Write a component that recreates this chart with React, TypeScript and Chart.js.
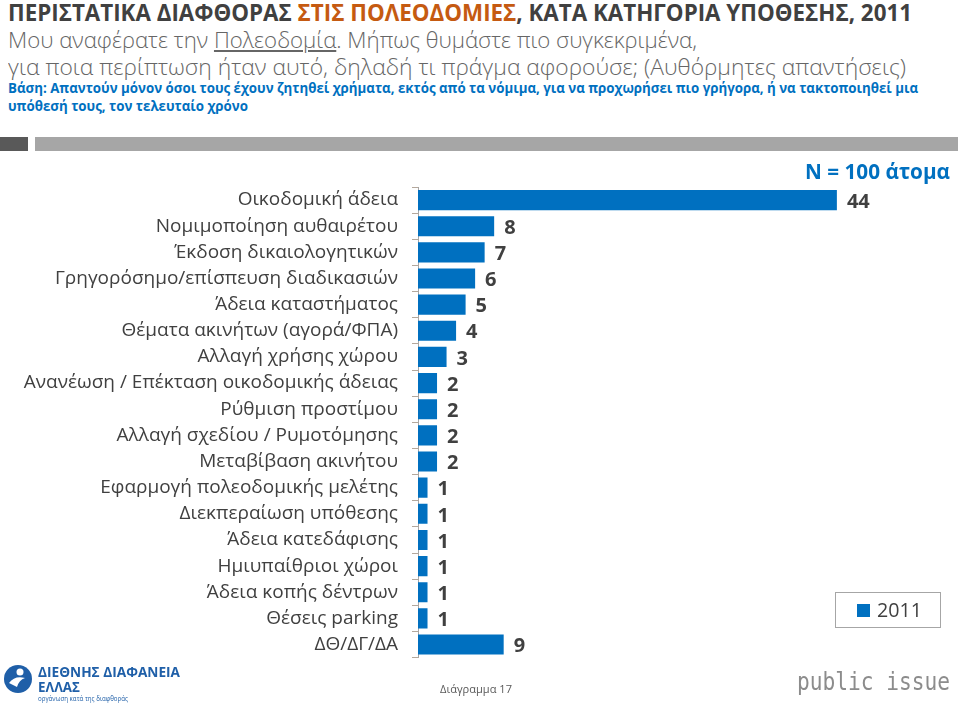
import React, { useEffect, useLayoutEffect, useRef } from "react";
import { Chart, registerables } from "chart.js";

Chart.register(...registerables);

const categories = [
  "Οικοδομική άδεια",
  "Νομιμοποίηση αυθαιρέτου",
  "Έκδοση δικαιολογητικών",
  "Γρηγορόσημο/επίσπευση διαδικασιών",
  "Άδεια καταστήματος",
  "Θέματα ακινήτων (αγορά/ΦΠΑ)",
  "Αλλαγή χρήσης χώρου",
  "Ανανέωση / Επέκταση οικοδομικής άδειας",
  "Ρύθμιση προστίμου",
  "Αλλαγή σχεδίου / Ρυμοτόμησης",
  "Μεταβίβαση ακινήτου",
  "Εφαρμογή πολεοδομικής μελέτης",
  "Διεκπεραίωση υπόθεσης",
  "Άδεια κατεδάφισης",
  "Ημιυπαίθριοι χώροι",
  "Άδεια κοπής δέντρων",
  "Θέσεις parking",
  "ΔΘ/ΔΓ/ΔΑ",
];
const values2011 = [44, 8, 7, 6, 5, 4, 3, 2, 2, 2, 2, 1, 1, 1, 1, 1, 1, 9];
const seriesName = "2011";
const xMax = 50;

const BLUE = "#0070C0";
const DARK = "#404040";

function Fit({ w, style, children }: { w: number; style?: React.CSSProperties; children?: React.ReactNode }) {
  const ref = useRef<HTMLSpanElement>(null);
  useLayoutEffect(() => {
    const el = ref.current;
    if (!el) return;
    el.style.transform = "none";
    const nat = el.getBoundingClientRect().width;
    if (nat > 0) el.style.transform = `scaleX(${w / nat})`;
  });
  return (
    <span
      ref={ref}
      style={{ position: "absolute", whiteSpace: "nowrap", transformOrigin: "0 0", lineHeight: 1, ...style }}
    >
      {children}
    </span>
  );
}

const valueLabels = {
  id: "valueLabels",
  afterDatasetsDraw(chart: any) {
    const ctx = chart.ctx;
    const meta = chart.getDatasetMeta(0);
    const data = chart.data.datasets[0].data;
    ctx.save();
    ctx.font = "bold 20px 'Open Sans'";
    ctx.fillStyle = DARK;
    ctx.textBaseline = "middle";
    ctx.textAlign = "left";
    meta.data.forEach((bar: any, i: number) => {
      ctx.fillText(String(data[i]), bar.x + 10, bar.y + 2);
    });
    ctx.restore();
  },
};

export default function App() {
  const canvasRef = useRef<HTMLCanvasElement>(null);
  useEffect(() => {
    if (!canvasRef.current) return;
    const chart = new Chart(canvasRef.current, {
      type: "bar",
      data: {
        labels: categories,
        datasets: [
          {
            label: seriesName,
            data: values2011,
            backgroundColor: BLUE,
            barPercentage: 0.77,
            categoryPercentage: 1,
          },
        ],
      },
      options: {
        indexAxis: "y",
        animation: false,
        responsive: false,
        maintainAspectRatio: false,
        layout: { padding: { top: 32, bottom: 12, left: 0, right: 66 } },
        plugins: { legend: { display: false }, tooltip: { enabled: false } },
        scales: {
          x: { display: false, min: 0, max: xMax },
          y: {
            afterFit: (s: any) => {
              s.width = 418;
            },
            border: { color: "#A6A6A6", width: 1 },
            grid: { offset: true, drawOnChartArea: false, tickLength: 6, color: "#B4A89C" },
            ticks: { padding: 14, color: DARK, font: { family: "'Open Sans'", size: 19 } },
          },
        },
      },
      plugins: [valueLabels],
    } as any);
    return () => chart.destroy();
  }, []);

  return (
    <div
      style={{
        position: "fixed",
        left: 0,
        top: 0,
        width: 960,
        height: 705,
        background: "#fff",
        overflow: "hidden",
        fontFamily: "'Open Sans', sans-serif",
      }}
    >
      <Fit w={904} style={{ left: 8, top: 0, fontSize: 24, fontWeight: 700, color: DARK }}>
        ΠΕΡΙΣΤΑΤΙΚΑ ΔΙΑΦΘΟΡΑΣ <span style={{ color: "#C55A11" }}>ΣΤΙΣ ΠΟΛΕΟΔΟΜΙΕΣ</span>, ΚΑΤΑ ΚΑΤΗΓΟΡΙΑ ΥΠΟΘΕΣΗΣ, 2011
      </Fit>
      <Fit w={689} style={{ left: 8, top: 28, fontSize: 22, fontWeight: 300, color: "#666666" }}>
        Μου αναφέρατε την <span style={{ textDecoration: "underline" }}>Πολεοδομία</span>. Μήπως θυμάστε πιο συγκεκριμένα,
      </Fit>
      <Fit w={898} style={{ left: 8, top: 55, fontSize: 22, fontWeight: 300, color: "#666666" }}>
        για ποια περίπτωση ήταν αυτό, δηλαδή τι πράγμα αφορούσε; (Αυθόρμητες απαντήσεις)
      </Fit>
      <Fit w={910} style={{ left: 8, top: 81, fontSize: 14.5, fontWeight: 700, color: BLUE }}>
        Βάση: Απαντούν μόνον όσοι τους έχουν ζητηθεί χρήματα, εκτός από τα νόμιμα, για να προχωρήσει πιο γρήγορα, ή να τακτοποιηθεί μια
      </Fit>
      <Fit w={240} style={{ left: 8, top: 99, fontSize: 14.5, fontWeight: 700, color: BLUE }}>
        υπόθεσή τους, τον τελευταίο χρόνο
      </Fit>

      <div style={{ position: "absolute", left: 0, top: 137, width: 28, height: 14, background: "#595959" }} />
      <div style={{ position: "absolute", left: 35, top: 137, width: 923, height: 14, background: "#A6A6A6" }} />

      <canvas ref={canvasRef} width={960} height={528} style={{ position: "absolute", left: 0, top: 155 }} />

      <Fit w={145} style={{ left: 805, top: 161, fontSize: 21, fontWeight: 700, color: BLUE }}>
        N = 100 άτομα
      </Fit>

      <div
        style={{
          position: "absolute",
          left: 835,
          top: 592,
          width: 104,
          height: 34,
          border: "1px solid #A6A6A6",
        }}
      />
      <div style={{ position: "absolute", left: 857, top: 604, width: 13, height: 13, background: BLUE }} />
      <Fit w={45} style={{ left: 877, top: 600, fontSize: 20, color: DARK }}>
        {seriesName}
      </Fit>

      <Fit w={72} style={{ left: 440, top: 683, fontSize: 11, color: "#595959" }}>
        Διάγραμμα 17
      </Fit>

      <Fit w={153} style={{ left: 797, top: 670, fontSize: 24, fontFamily: "'DejaVu Sans Mono', monospace", color: "#8C8C8C" }}>
        public issue
      </Fit>

      <svg style={{ position: "absolute", left: 3, top: 663 }} width={30} height={32} viewBox="0 0 30 32">
        <circle cx={15} cy={16} r={14} fill="#1F5FA8" />
        <circle cx={17} cy={9} r={3.5} fill="#fff" />
        <path d="M6 20 Q12 12 22 15 Q16 17 14 24 Q10 22 6 20 Z" fill="#fff" />
      </svg>
      <Fit w={142} style={{ left: 38, top: 664, fontSize: 15, fontWeight: 700, color: "#1F5FA8" }}>
        ΔΙΕΘΝΗΣ ΔΙΑΦΑΝΕΙΑ
      </Fit>
      <Fit w={42} style={{ left: 38, top: 679, fontSize: 15, fontWeight: 700, color: "#1F5FA8" }}>
        ΕΛΛΑΣ
      </Fit>
      <Fit w={90} style={{ left: 38, top: 694, fontSize: 8, color: "#1F5FA8" }}>
        οργάνωση κατά της διαφθοράς
      </Fit>
    </div>
  );
}
